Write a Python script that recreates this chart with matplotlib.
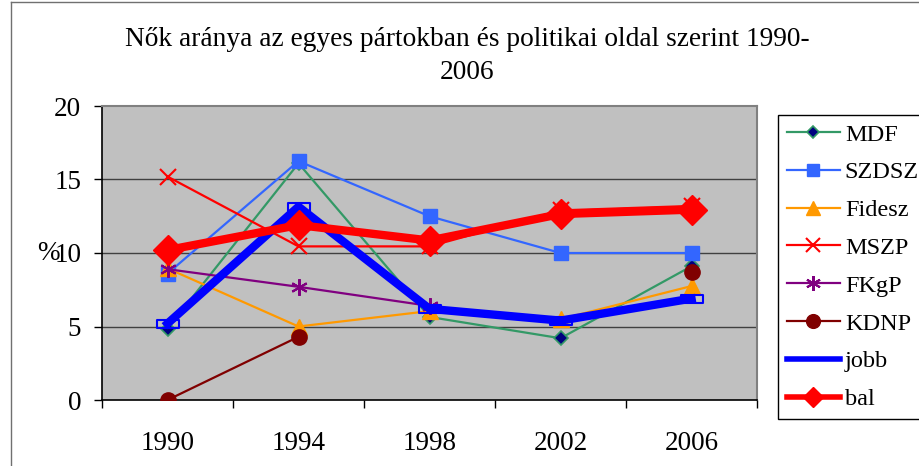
import numpy as np
import matplotlib
matplotlib.use("Agg")
import matplotlib.pyplot as plt
from matplotlib.path import Path
from matplotlib.lines import Line2D

plt.rcParams['font.family'] = ['Liberation Serif', 'DejaVu Serif']

years = ["1990", "1994", "1998", "2002", "2006"]
nan = np.nan
MDF = [4.85, 16.1, 5.65, 4.2, 9.1]
SZDSZ = [8.6, 16.25, 12.5, 10.0, 10.0]
Fidesz = [8.95, 5.0, 6.05, 5.5, 7.75]
MSZP = [15.2, 10.45, 10.45, 12.9, 13.2]
FKgP = [8.9, 7.7, 6.4, nan, nan]
KDNP = [0.0, 4.3, nan, nan, 8.7]
jobb = [5.2, 13.15, 6.2, 5.4, 6.9]
bal = [10.2, 11.9, 10.85, 12.65, 12.95]
yticks = [0, 5, 10, 15, 20]
title = "Nők aránya az egyes pártokban és politikai oldal szerint 1990-\n2006"

W, H = 920, 466
fig = plt.figure(figsize=(W / 100, H / 100), dpi=100)
ax = fig.add_axes([102 / W, (H - 400) / H, (757 - 102) / W, (400 - 106) / H])
ax.set_facecolor('#C0C0C0')

x = np.arange(len(years))
for v in yticks[1:-1]:
    ax.axhline(v, color='#404040', lw=1.0, zorder=1)

rect_marker = Path([(-1, -0.35), (1, -0.35), (1, 0.35), (-1, 0.35), (-1, -0.35)],
                   [Path.MOVETO, Path.LINETO, Path.LINETO, Path.LINETO, Path.CLOSEPOLY])

series = [
    ("MDF", MDF, dict(color='#339966', lw=1.6, marker='D', ms=7, mfc='#000080', mec='#339966', mew=1.2)),
    ("SZDSZ", SZDSZ, dict(color='#3366FF', lw=1.6, marker='s', ms=10, mfc='#3366FF', mec='#3366FF')),
    ("Fidesz", Fidesz, dict(color='#FF9900', lw=1.6, marker='^', ms=11, mfc='#FF9900', mec='#FF9900')),
    ("MSZP", MSZP, dict(color='#FF0000', lw=1.6, marker='x', ms=11, mew=1.5)),
    ("FKgP", FKgP, dict(color='#800080', lw=1.6, marker=(6, 2, 0), ms=12, mew=1.5)),
    ("KDNP", KDNP, dict(color='#800000', lw=1.6, marker='o', ms=11, mfc='#800000', mec='#800000')),
    ("jobb", jobb, dict(color='#0000FF', lw=6.0, marker=rect_marker, ms=16, mfc='none', mec='#0000FF', mew=1.5)),
    ("bal", bal, dict(color='#FF0000', lw=6.0, marker='D', ms=15, mfc='#FF0000', mec='#FF0000')),
]
for i, (name, vals, kw) in enumerate(series):
    ax.plot(x, vals, label=name, zorder=3 + i, **kw)

ax.set_xlim(-0.5, len(years) - 0.5)
ax.set_ylim(0, 20)
ax.set_yticks(yticks)
ax.set_yticklabels([str(v) for v in yticks])
ax.set_xticks(x)
ax.set_xticklabels(years)
ax.set_xticks(np.arange(-0.5, len(years)), minor=True)
ax.tick_params(axis='x', which='major', length=0, pad=22, labelsize=19.5)
ax.tick_params(axis='x', which='minor', length=6, width=1, color='black', direction='out')
ax.tick_params(axis='y', which='major', length=6, width=1, pad=9, labelsize=19.5, direction='out')

for s in ['left', 'bottom']:
    ax.spines[s].set_color('black')
    ax.spines[s].set_linewidth(1.2)
for s in ['top', 'right']:
    ax.spines[s].set_color('#808080')
    ax.spines[s].set_linewidth(1.5)

fig.text(48 / W, 1 - 253 / H, "%", fontsize=19.5, ha='center', va='center')

fig.text(467 / W, 1 - 56 / H, title, fontsize=19.7, ha='center', va='center', linespacing=1.4)

leg_handles = []
for name, vals, kw in series:
    kk = dict(kw)
    if name == "jobb":
        kk['marker'] = None
        kk['lw'] = 4.0
    elif name == "bal":
        kk['lw'] = 4.0
        kk['ms'] = 10
    else:
        kk['ms'] = kk.get('ms', 8) * 0.9
    leg_handles.append(Line2D([0], [0], label=name, **kk))
leg = fig.legend(handles=leg_handles, loc='upper left',
                 bbox_to_anchor=(778 / W, 1 - 115 / H), bbox_transform=fig.transFigure,
                 fontsize=17.5, frameon=True, fancybox=False, edgecolor='black',
                 handlelength=2.2, handletextpad=0.2, labelspacing=0.65,
                 borderpad=0.35, borderaxespad=0, framealpha=1)
leg.get_frame().set_linewidth(1.0)

# outer chart border
fig.add_artist(Line2D([11 / W, 11 / W], [0, 1 - 1.5 / H], transform=fig.transFigure, color='#707070', lw=1))
fig.add_artist(Line2D([11 / W, 1], [1 - 1.5 / H, 1 - 1.5 / H], transform=fig.transFigure, color='#707070', lw=1))

fig.savefig("out.png", dpi=100)
